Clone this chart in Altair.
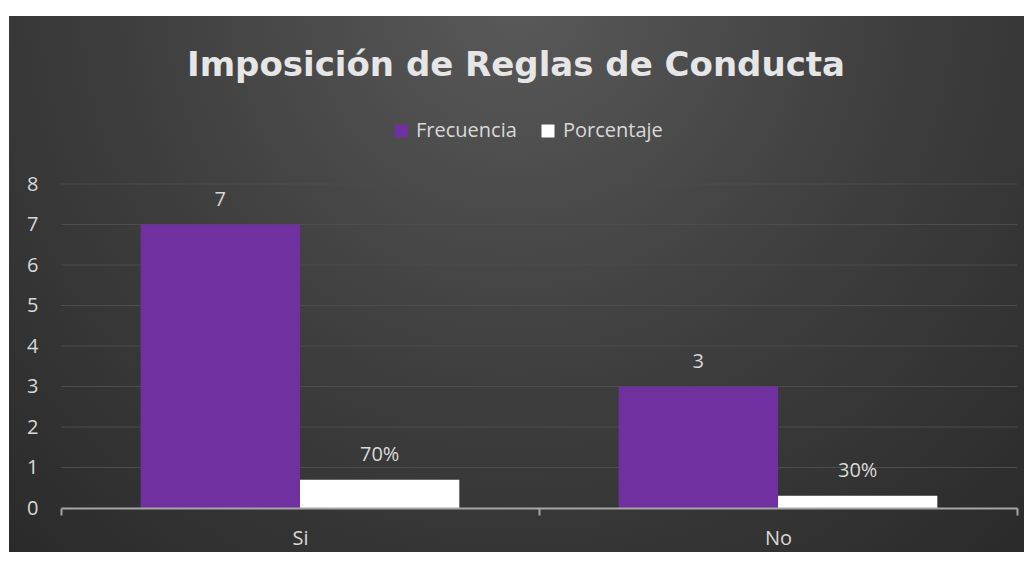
import altair as alt
import pandas as pd

categorias = ["Si", "No"]
series = ["Frecuencia", "Porcentaje"]
frecuencia = [7, 3]
porcentaje = [0.7, 0.3]
etiquetas_frecuencia = ["7", "3"]
etiquetas_porcentaje = ["70%", "30%"]
ticks_y = [0, 1, 2, 3, 4, 5, 6, 7, 8]
titulo = "Imposición de Reglas de Conducta"
colores = ["#7030a0", "#ffffff"]

rows = []
for i, c in enumerate(categorias):
    rows.append({"categoria": c, "serie": series[0], "valor": frecuencia[i], "etiqueta": etiquetas_frecuencia[i]})
    rows.append({"categoria": c, "serie": series[1], "valor": porcentaje[i], "etiqueta": etiquetas_porcentaje[i]})
df = pd.DataFrame(rows)
grid_df = pd.DataFrame({"valor": ticks_y[1:]})

W, H = 956, 324
TXT = "#d9d9d9"
FONT = "Open Sans"
FS = 20

one = alt.Data(values=[{}])

bg = alt.Chart(one).mark_rect(
    color={
        "gradient": "radial",
        "x1": 0.5, "y1": 0.22, "r1": 0.0,
        "x2": 0.5, "y2": 0.22, "r2": 0.85,
        "stops": [
            {"offset": 0.0, "color": "#595959"},
            {"offset": 0.45, "color": "#3e3e3e"},
            {"offset": 1.0, "color": "#242424"},
        ],
    }
).encode(
    x=alt.value(-52), x2=alt.value(W + 7),
    y=alt.value(-168), y2=alt.value(H + 44),
)

grid = alt.Chart(grid_df).mark_rule(color="#4d4d4d", strokeWidth=1).encode(
    y=alt.Y("valor:Q", scale=alt.Scale(domain=[0, 8])),
    x=alt.value(0), x2=alt.value(W),
)

title = alt.Chart(one).mark_text(
    font="DejaVu Sans", fontSize=34, fontWeight="bold", color="#e6e6e6",
    align="center", baseline="alphabetic",
).encode(x=alt.value(455), y=alt.value(-108), text=alt.value(titulo))

x_enc = alt.X(
    "categoria:N", sort=categorias, title=None,
    scale=alt.Scale(paddingInner=0, paddingOuter=0),
    axis=alt.Axis(
        labelAngle=0, labelColor=TXT, labelFontSize=FS, labelFont=FONT, labelPadding=13,
        domainColor="#a6a6a6", domainWidth=2, tickColor="#a6a6a6", tickWidth=2, tickSize=7,
        tickBand="extent", grid=False, zindex=1,
    ),
)
xo_enc = alt.XOffset("serie:N", sort=series, scale=alt.Scale(paddingInner=0, paddingOuter=0.5))
y_enc = alt.Y(
    "valor:Q", title=None,
    scale=alt.Scale(domain=[0, 8]),
    axis=alt.Axis(
        values=ticks_y, labelColor=TXT, labelFontSize=FS, labelFont=FONT, labelPadding=23,
        domain=False, ticks=False, grid=False, zindex=1,
    ),
)

bars = alt.Chart(df).mark_bar().encode(
    x=x_enc, xOffset=xo_enc, y=y_enc,
    color=alt.Color(
        "serie:N", sort=series,
        scale=alt.Scale(domain=series, range=colores),
        legend=alt.Legend(
            title=None, orient="none", legendX=330, legendY=-63, direction="horizontal",
            symbolType="square", symbolSize=169, symbolStrokeWidth=0,
            labelColor=TXT, labelFontSize=FS, labelFont=FONT, columnPadding=21, labelOffset=5,
        ),
    ),
)

labels = alt.Chart(df).mark_text(
    font=FONT, fontSize=FS, color=TXT, baseline="alphabetic", dy=-19
).encode(x=alt.X("categoria:N", sort=categorias), xOffset=alt.XOffset("serie:N", sort=series), y="valor:Q", text="etiqueta:N")

chart = alt.layer(bg, grid, bars, labels, title).properties(
    width=W, height=H,
    autosize=alt.AutoSizeParams(type="none"),
    padding={"left": 53, "top": 176, "right": 7, "bottom": 44},
    background="white",
).configure_view(stroke=None)

chart.save("out.html", embed_options={"renderer": "svg", "actions": False})
